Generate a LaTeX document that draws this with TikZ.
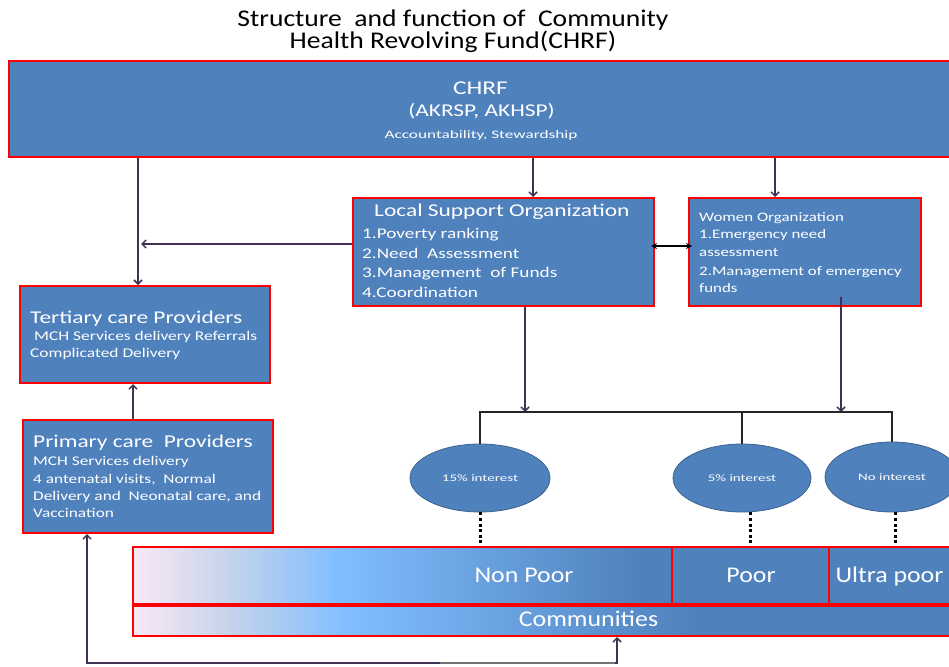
\documentclass[tikz,border=0pt]{standalone}
\usepackage{fontspec}
\setmainfont{Carlito}
\newfontfamily\fA{Carlito}[FakeStretch=1.15]
\newfontfamily\fB{Carlito}[FakeStretch=1.3]
\newfontfamily\fC{Carlito}[FakeStretch=1.5]
\usetikzlibrary{arrows.meta,shapes.geometric}
\definecolor{ofblue}{RGB}{79,129,189}
\definecolor{bred}{RGB}{255,0,0}
\definecolor{connc}{RGB}{64,49,82}
\definecolor{pinkw}{RGB}{250,232,246}
\definecolor{midg}{RGB}{198,212,234}
\definecolor{lblue}{RGB}{128,190,255}
\definecolor{ellb}{RGB}{60,98,145}
\pgfdeclarehorizontalshading{npshade}{100bp}{color(0bp)=(pinkw); color(25bp)=(pinkw); color(33.7bp)=(midg); color(44bp)=(lblue); color(72bp)=(ofblue); color(100bp)=(ofblue)}
\pgfdeclarehorizontalshading{cmshade}{100bp}{color(0bp)=(pinkw); color(25bp)=(pinkw); color(30.7bp)=(midg); color(38bp)=(lblue); color(59bp)=(ofblue); color(100bp)=(ofblue)}
\newcommand{\fz}[1]{\fontsize{#1}{#1}\selectfont}
\tikzset{
  box/.style={rectangle, draw=bred, line width=2pt, fill=ofblue, inner sep=0pt},
  gbox/.style={rectangle, draw=bred, line width=2pt, inner sep=0pt, shade, shading=#1},
  ell/.style={ellipse, draw=ellb, line width=0.8pt, fill=ofblue, inner sep=0pt, text=white},
  wt/.style={text=white, inner sep=0pt, anchor=base west},
  wc/.style={text=white, inner sep=0pt, anchor=base},
  conn/.style={draw=connc, line width=1.5pt, -{Straight Barb[length=4pt,width=8pt]}},
  dblarrow/.style={draw=black, line width=1.6pt, {Stealth[length=6pt,width=6pt]}-{Stealth[length=6pt,width=6pt]}},
  tree/.style={draw=black!85, line width=1.8pt},
  dotline/.style={draw=black, line width=3pt, dash pattern=on 3pt off 2.6pt},
  greyseg/.style={draw=black!55, line width=2pt}
}
\begin{document}
\begin{tikzpicture}[x=1pt,y=-1pt]
\useasboundingbox (0,0) rectangle (949,666);
\clip (0,0) rectangle (949,666);
% title
\node[inner sep=0pt, anchor=base] (t1) at (453,26.5) {\fA\fz{24}Structure\ \ and function of\ \ Community};
\node[inner sep=0pt, anchor=base] (t2) at (453,48.5) {\fA\fz{24}Health Revolving Fund(CHRF)};
% boxes
\node[box, minimum width=951pt, minimum height=96pt] (chrf) at (484.5,109) {};
\node[box, minimum width=301pt, minimum height=108pt] (lso) at (503.5,252) {};
\node[box, minimum width=232pt, minimum height=108pt] (wo) at (805,252) {};
\node[box, minimum width=250pt, minimum height=97pt] (tert) at (145,334.5) {};
\node[box, minimum width=250pt, minimum height=113pt] (prim) at (148,476.5) {};
\node[gbox=npshade, minimum width=539pt, minimum height=57pt] (np) at (402.5,575.5) {};
\node[box, minimum width=157pt, minimum height=57pt] (poor) at (750.5,575.5) {};
\node[box, minimum width=131pt, minimum height=57pt] (ultra) at (894.5,575.5) {};
\node[gbox=cmshade, minimum width=827pt, minimum height=30pt] (comm) at (546.5,621) {};
% ellipses
\node[ell, minimum width=140pt, minimum height=68pt] (e15) at (480,478) {\fC\fz{10}15\% interest};
\node[ell, minimum width=138pt, minimum height=68pt] (e5) at (742,478) {\fC\fz{10}5\% interest};
\node[ell, minimum width=134pt, minimum height=70pt] (eno) at (892,477) {\fC\fz{10}No interest};
% texts
\node[wc] (c1) at (480.5,95) {\fB\fz{19.5}CHRF};
\node[wc] (c2) at (481.5,117) {\fB\fz{18}(AKRSP, AKHSP)};
\node[wc] (c3) at (481,138) {\fC\fz{11.5}Accountability, Stewardship};
\node[wt] (l0) at (374,216) {\fB\fz{18}Local Support Organization};
\node[wt] (l1) at (362,238) {\fB\fz{14.8}1.Poverty\ ranking};
\node[wt] (l2) at (362,258) {\fB\fz{14.8}2.Need\ \ Assessment};
\node[wt] (l3) at (362,277) {\fB\fz{14.8}3.Management\ \ of Funds};
\node[wt] (l4) at (362,297) {\fB\fz{14.8}4.Coordination};
\node[wt] (w0) at (699,221) {\fB\fz{13}Women Organization};
\node[wt] (w1) at (699,238) {\fB\fz{13}1.Emergency need};
\node[wt] (w2) at (699,256) {\fB\fz{13}assessment};
\node[wt] (w3) at (699,275) {\fB\fz{13}2.Management of emergency};
\node[wt] (w4) at (699,292) {\fB\fz{13}funds};
\node[wt] (tt0) at (30,323) {\fB\fz{18}Tertiary care Providers};
\node[wt] (tt1) at (34,340) {\fB\fz{13.4}MCH Services delivery Referrals};
\node[wt] (tt2) at (30,357) {\fB\fz{13.4}Complicated Delivery};
\node[wt] (p0) at (33,447) {\fB\fz{18}Primary care\ \ Providers};
\node[wt] (p1) at (33,465) {\fB\fz{13.3}MCH Services delivery};
\node[wt] (p2) at (33,483) {\fB\fz{13.3}4 antenatal visits,\ \ Normal};
\node[wt] (p3) at (33,500) {\fB\fz{13.3}Delivery and\ \ Neonatal care, and};
\node[wt] (p4) at (33,517) {\fB\fz{13.3}Vaccination};
\node[wc] (n1) at (524,582) {\fA\fz{22.5}Non Poor};
\node[wc] (n2) at (751,582) {\fA\fz{22.5}Poor};
\node[wc] (n3) at (889.5,582) {\fA\fz{22.5}Ultra poor};
\node[wc] (n4) at (588.5,626) {\fA\fz{22.5}Communities};
% helper coordinates
\coordinate (xa) at (138,0);
\coordinate (xb) at (533,0);
\coordinate (xc) at (775,0);
\coordinate (ya) at (0,244);
\coordinate (ja) at (141,244);
\coordinate (xp) at (133,0);
\coordinate (yd) at (0,246);
\coordinate (bar) at (0,412);
\coordinate (xl) at (525,0);
\coordinate (xw) at (841,0);
\coordinate (yb) at (0,663);
\coordinate (xq) at (87,0);
\coordinate (xr) at (617,0);
\coordinate (g1) at (440,663);
\coordinate (g2) at (615,663);
% connectors
\draw[conn] (chrf.south -| xa) -- (tert.north -| xa);
\draw[conn] (chrf.south -| xb) -- (lso.north -| xb);
\draw[conn] (chrf.south -| xc) -- (wo.north -| xc);
\draw[conn] (lso.west |- ya) -- (ja);
\draw[conn] (prim.north -| xp) -- (tert.south -| xp);
\draw[dblarrow, shorten <=-4pt, shorten >=-4pt] (lso.east |- yd) -- (wo.west |- yd);
\draw[conn] (lso.south -| xl) -- (xl |- bar);
\draw[conn, shorten <=-10pt] (wo.south -| xw) -- (xw |- bar);
\draw[tree] (e15.north) -- (e15.north |- bar) -- (eno.north |- bar) -- (eno.north);
\draw[tree] (e5.north) -- (e5.north |- bar);
\draw[dotline] (e15.south) -- (e15.south |- np.north);
\draw[dotline] ([xshift=8pt]e5.south) -- ([xshift=8pt]e5.south |- np.north);
\draw[dotline] ([xshift=3pt]eno.south) -- ([xshift=3pt]eno.south |- np.north);
\draw[conn, {Straight Barb[length=4pt,width=8pt]}-{Straight Barb[length=4pt,width=8pt]}] (prim.south -| xq) -- (xq |- yb) -- (xr |- yb) -- (comm.south -| xr);
\draw[greyseg] (g1) -- (g2);
\end{tikzpicture}
\end{document}
